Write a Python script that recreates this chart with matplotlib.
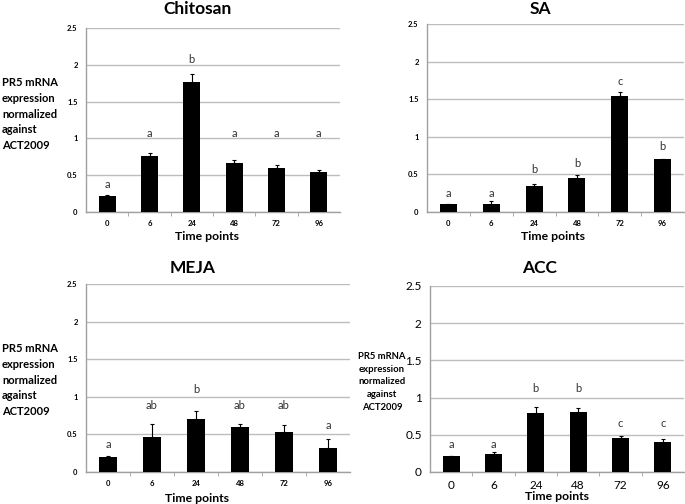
import numpy as np
import matplotlib
matplotlib.use('Agg')
import matplotlib.pyplot as plt

plt.rcParams['font.family'] = ['Lato', 'DejaVu Sans']

times = ['0', '6', '24', '48', '72', '96']

chitosan_mean = [0.22, 0.76, 1.77, 0.66, 0.60, 0.54]
chitosan_err = [0.01, 0.04, 0.10, 0.04, 0.04, 0.03]
chitosan_letters = ['a', 'a', 'b', 'a', 'a', 'a']
chitosan_letter_y = [0.38, 1.06, 2.07, 1.06, 1.06, 1.06]

sa_mean = [0.10, 0.10, 0.34, 0.45, 1.54, 0.70]
sa_err = [0.01, 0.05, 0.03, 0.04, 0.05, 0.005]
sa_letters = ['a', 'a', 'b', 'b', 'c', 'b']
sa_letter_y = [0.24, 0.24, 0.56, 0.64, 1.73, 0.87]

meja_mean = [0.20, 0.47, 0.71, 0.60, 0.53, 0.32]
meja_err = [0.01, 0.17, 0.10, 0.04, 0.10, 0.12]
meja_letters = ['a', 'ab', 'b', 'ab', 'ab', 'a']
meja_letter_y = [0.37, 0.89, 1.10, 0.89, 0.89, 0.62]

acc_mean = [0.21, 0.24, 0.79, 0.81, 0.46, 0.40]
acc_err = [0.0, 0.03, 0.08, 0.05, 0.03, 0.05]
acc_letters = ['a', 'a', 'b', 'b', 'c', 'c']
acc_letter_y = [0.37, 0.37, 1.12, 1.12, 0.65, 0.65]

ylabel = 'PR5 mRNA\nexpression\nnormalized\nagainst\nACT2009'

fig = plt.figure(figsize=(6.85, 5.04), dpi=100)
W, H = 685.0, 504.0


def px_axes(l, t, r, b):
    return fig.add_axes([l / W, 1 - b / H, (r - l) / W, (b - t) / H])


def draw_panel(ax, mean, err, letters, letter_y, tick_size, tick_weight):
    x = np.arange(len(times))
    ax.set_axisbelow(True)
    ax.yaxis.grid(True, color='#bdbdbd', linewidth=1.0)
    ax.bar(x, mean, width=0.4, color='black', zorder=3)
    ax.errorbar(x, mean, yerr=[np.zeros(len(err)), err], fmt='none',
                ecolor='black', elinewidth=0.8, capsize=1.5, capthick=0.8, zorder=4)
    for xi, lt, ly in zip(x, letters, letter_y):
        ax.text(xi, ly, lt, ha='center', va='center', fontsize=8, color='#333333')
    ax.set_xlim(-0.5, len(times) - 0.5)
    ax.set_ylim(0, 2.5)
    ax.set_yticks([0, 0.5, 1, 1.5, 2, 2.5])
    ax.set_yticklabels(['0', '0.5', '1', '1.5', '2', '2.5'],
                       fontsize=tick_size, fontweight=tick_weight)
    ax.set_xticks(x)
    ax.set_xticklabels(times, fontsize=tick_size, fontweight=tick_weight)
    ax.set_xticks(np.arange(0.5, len(times) - 0.5, 1.0), minor=True)
    ax.tick_params(axis='x', which='major', length=0, pad=6)
    ax.tick_params(axis='x', which='minor', length=3, color='#a0a0a0')
    ax.tick_params(axis='y', length=0, pad=6)
    for s in ['top', 'right']:
        ax.spines[s].set_visible(False)
    for s in ['left', 'bottom']:
        ax.spines[s].set_color('#a0a0a0')
        ax.spines[s].set_linewidth(1.0)


ax1 = px_axes(86, 28, 340, 212)
draw_panel(ax1, chitosan_mean, chitosan_err, chitosan_letters, chitosan_letter_y, 5.5, 'bold')
ax2 = px_axes(427, 24, 684, 212)
draw_panel(ax2, sa_mean, sa_err, sa_letters, sa_letter_y, 5.5, 'bold')
ax3 = px_axes(86, 284, 350, 472)
draw_panel(ax3, meja_mean, meja_err, meja_letters, meja_letter_y, 5.5, 'bold')
ax4 = px_axes(430, 286, 684, 472)
draw_panel(ax4, acc_mean, acc_err, acc_letters, acc_letter_y, 8.5, 'normal')

# titles
for name, xp, yp in [('Chitosan', 197, 9), ('SA', 540, 9), ('MEJA', 193, 268), ('ACC', 540, 268)]:
    fig.text(xp / W, 1 - yp / H, name, ha='center', va='center', fontsize=12.5, fontweight='bold')

# x labels
for xp, yp in [(207, 237), (553, 237), (197, 498), (557, 497)]:
    fig.text(xp / W, 1 - yp / H, 'Time points', ha='center', va='center', fontsize=8.8, fontweight='bold')

# y labels
fig.text(2 / W, 1 - 114 / H, ylabel, ha='left', va='center', fontsize=8, fontweight='bold', linespacing=1.55)
fig.text(2 / W, 1 - 380 / H, ylabel, ha='left', va='center', fontsize=8, fontweight='bold', linespacing=1.55)
fig.text(382 / W, 1 - 382 / H, ylabel, ha='center', va='center', fontsize=6.8, fontweight='bold',
         linespacing=1.55)

fig.savefig('out.png', dpi=100)
